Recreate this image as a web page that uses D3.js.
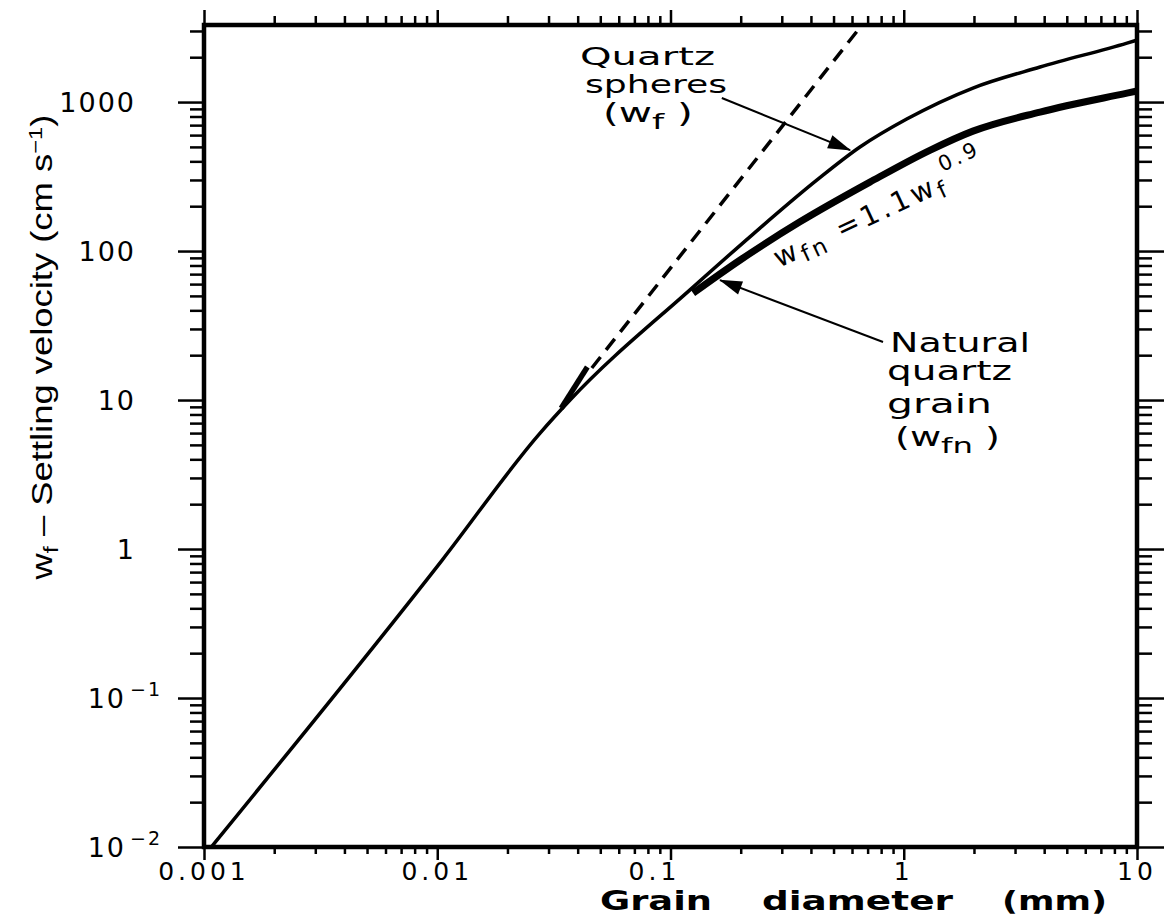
<!DOCTYPE html>
<html>
<head>
<meta charset="utf-8">
<script src="https://cdn.jsdelivr.net/npm/d3@7"></script>
<style>
  body { margin: 0; background: #fff; }
  svg { display: block; }
  .tick line { stroke: #000; stroke-width: 2.5; }
  text { fill: #000; }
</style>
</head>
<body>
<script>
// grain diameter (mm) / settling velocity (cm/s)
var sphereDiam = [0.00108, 0.0105, 0.0276, 0.0371, 0.125, 0.226, 0.425, 0.649, 1.03, 1.98, 3.84, 9.06, 10];
var sphereVel = [0.0101, 0.843, 6.0, 10.0, 57.3, 130, 300, 499, 769, 1242, 1718, 2488, 2606];

var naturalDiam = [0.125, 0.199, 0.359, 0.716, 1.30, 1.98, 3.84, 9.06, 10];
var naturalVel = [52.2, 87.1, 157, 290, 476, 638, 857, 1148, 1186];

// Stokes law extension (dashed)
var stokesDiam = [0.046, 0.662];
var stokesVel = [16.4, 3290];

// short heavy mark on the sphere curve
var markDiam = [0.034, 0.044];

var xTicks = [0.001, 0.01, 0.1, 1, 10];
var xTickLabels = ["0.001", "0.01", "0.1", "1", "10"];
var yTicks = [0.01, 0.1, 1, 10, 100, 1000];
var yTickLabels = [["10", "\u22122"], ["10", "\u22121"], ["1"], ["10"], ["100"], ["1000"]];

var width = 1169, height = 917;
var margin = { top: 25, right: 32, bottom: 70, left: 204 };
var yMax = 3290;

var svg = d3.select("body").append("svg")
  .attr("width", width)
  .attr("height", height);

var x = d3.scaleLog().domain([0.001, 10]).range([margin.left, width - margin.right]);
var y = d3.scaleLog().domain([0.01, yMax]).range([height - margin.bottom, margin.top]);

function minorTicks(scale) {
  var d = scale.domain(), out = [];
  for (var e = Math.floor(Math.log10(d[0])); e <= Math.ceil(Math.log10(d[1])); e++) {
    for (var k = 2; k <= 9; k++) {
      var v = k * Math.pow(10, e);
      if (v > d[0] && v < d[1]) out.push(v);
    }
  }
  return out;
}

var defs = svg.append("defs");
defs.append("marker")
  .attr("id", "head")
  .attr("viewBox", "-24 -8 26 16")
  .attr("refX", 0).attr("refY", 0)
  .attr("markerUnits", "userSpaceOnUse")
  .attr("markerWidth", 26).attr("markerHeight", 16)
  .attr("orient", "auto")
  .append("path")
  .attr("d", "M1,0L-22,-7L-22,7Z")
  .attr("fill", "#000");

// ----------------------------------------------------
// axes: ticks on all four sides, pointing outward
// ----------------------------------------------------
function drawAxis(axisFn, scale, major, transform, majorLen, minorLen) {
  var g = svg.append("g").attr("transform", transform);
  g.append("g").call(axisFn(scale).tickValues(major).tickSize(majorLen).tickFormat(""))
    .call(function (s) { s.select(".domain").remove(); });
  g.append("g").call(axisFn(scale).tickValues(minorTicks(scale)).tickSize(minorLen).tickFormat(""))
    .call(function (s) { s.select(".domain").remove(); });
}

var x0 = x.range()[0], x1 = x.range()[1], y0 = y.range()[0], y1 = y.range()[1];
drawAxis(d3.axisLeft, y, yTicks, "translate(" + x0 + ",0)", 26, 14);
drawAxis(d3.axisRight, y, yTicks, "translate(" + x1 + ",0)", 27, 15);
drawAxis(d3.axisTop, x, xTicks, "translate(0," + y1 + ")", 15, 9);
drawAxis(d3.axisBottom, x, xTicks, "translate(0," + y0 + ")", 13, 7);

svg.append("rect")
  .attr("x", x0).attr("y", y1)
  .attr("width", x1 - x0).attr("height", y0 - y1)
  .attr("fill", "none")
  .attr("stroke", "#000")
  .attr("stroke-width", 4.5);

// tick labels
var labelFont = "'DejaVu Sans', sans-serif";
svg.append("g")
  .selectAll("text")
  .data(xTicks)
  .join("text")
  .attr("x", function (d, i) { return x(d) + (xTickLabels[i] === "0.1" ? -16 : 0); })
  .attr("y", y0 + 33)
  .attr("text-anchor", "middle")
  .style("font", "25px " + labelFont)
  .style("letter-spacing", "4px")
  .text(function (d, i) { return xTickLabels[i]; });

var yl = svg.append("g")
  .selectAll("text")
  .data(yTicks)
  .join("text")
  .attr("x", function (d, i) { return yTickLabels[i].length > 1 ? 162 : 136; })
  .attr("y", function (d) { return y(d) + 10; })
  .attr("text-anchor", "end")
  .style("font", "27px " + labelFont)
  .style("letter-spacing", "2px");
yl.append("tspan").text(function (d, i) { return yTickLabels[i][0]; });
yl.filter(function (d, i) { return yTickLabels[i].length > 1; })
  .append("tspan")
  .attr("dx", 4)
  .attr("dy", -12)
  .style("font-size", "19px")
  .text(function (d, i) { return yTickLabels[i][1]; });

// axis titles
var yt = svg.append("text")
  .attr("transform", "translate(52,347) rotate(-90)")
  .attr("text-anchor", "middle")
  .attr("textLength", 465)
  .attr("lengthAdjust", "spacingAndGlyphs")
  .style("font", "29px 'Liberation Sans Narrow', 'Liberation Sans', sans-serif");
yt.append("tspan").text("w");
yt.append("tspan").attr("dy", 6).style("font-size", "20px").text("f");
yt.append("tspan").attr("dy", -6).text(" \u2013 Settling  velocity  (cm s");
yt.append("tspan").attr("dy", -10).style("font-size", "19px").text("\u22121");
yt.append("tspan").attr("dy", 10).text(")");

[["Grain", 600, 112], ["diameter", 762, 191], ["(mm)", 1002, 105]].forEach(function (w) {
  svg.append("text")
    .attr("x", w[1]).attr("y", 910)
    .attr("textLength", w[2])
    .attr("lengthAdjust", "spacingAndGlyphs")
    .style("font", "bold 26px " + labelFont)
    .text(w[0]);
});

// ----------------------------------------------------
// curves
// ----------------------------------------------------
var line = d3.line()
  .x(function (d) { return x(d[0]); })
  .y(function (d) { return y(d[1]); })
  .curve(d3.curveMonotoneX);

var straight = d3.line()
  .x(function (d) { return x(d[0]); })
  .y(function (d) { return y(d[1]); });

var plot = svg.append("g");

plot.append("path")
  .datum(d3.zip(stokesDiam, stokesVel))
  .attr("d", straight)
  .attr("fill", "none")
  .attr("stroke", "#000")
  .attr("stroke-width", 3.5)
  .attr("stroke-dasharray", "14 9");

plot.append("path")
  .datum(d3.zip(sphereDiam, sphereVel))
  .attr("d", line)
  .attr("fill", "none")
  .attr("stroke", "#000")
  .attr("stroke-width", 3.5);

var logInterp = d3.scaleLog().domain(sphereDiam).range(sphereVel);
plot.append("path")
  .datum(markDiam.map(function (d) { return [d, logInterp(d)]; }))
  .attr("d", straight)
  .attr("fill", "none")
  .attr("stroke", "#000")
  .attr("stroke-width", 5.5);

plot.append("path")
  .datum(d3.zip(naturalDiam, naturalVel))
  .attr("d", line)
  .attr("fill", "none")
  .attr("stroke", "#000")
  .attr("stroke-width", 7);

// ----------------------------------------------------
// annotations
// ----------------------------------------------------
function label(txt, px, py, len, size) {
  return svg.append("text")
    .attr("x", px).attr("y", py)
    .attr("textLength", len)
    .attr("lengthAdjust", "spacingAndGlyphs")
    .style("font", (size || 26) + "px " + labelFont)
    .text(txt);
}

label("Quartz", 580, 65, 135, 24);
label("spheres", 585, 93, 142, 24);
var qf = label("", 603, 122, 90);
qf.append("tspan").text("(w");
qf.append("tspan").attr("dy", 7).style("font-size", "22px").text("f");
qf.append("tspan").attr("dy", -7).text(" )");

label("Natural", 890, 352, 140);
label("quartz", 887, 380, 125);
label("grain", 887, 413, 105);
var nf = label("", 895, 446, 105);
nf.append("tspan").text("(w");
nf.append("tspan").attr("dy", 7).style("font-size", "22px").text("fn");
nf.append("tspan").attr("dy", -7).text(" )");

var eq = svg.append("text")
  .attr("transform", "translate(779,268) rotate(-25)")
  .style("font", "28px " + labelFont)
  .style("letter-spacing", "3.5px");
eq.append("tspan").text("w");
eq.append("tspan").attr("dy", 6).style("font-size", "23px").text("fn");
eq.append("tspan").attr("dy", -6).text(" =1.1w");
eq.append("tspan").attr("dy", 6).style("font-size", "23px").text("f");
eq.append("tspan").attr("dy", -24).style("font-size", "21px").text("0.9");

// arrows
[[[0.166, 1064], [0.589, 476]], [[0.815, 24.5], [0.163, 63.8]]].forEach(function (a) {
  svg.append("line")
    .attr("x1", x(a[0][0])).attr("y1", y(a[0][1]))
    .attr("x2", x(a[1][0])).attr("y2", y(a[1][1]))
    .attr("stroke", "#000")
    .attr("stroke-width", 2)
    .attr("marker-end", "url(#head)");
});
</script>
</body>
</html>
